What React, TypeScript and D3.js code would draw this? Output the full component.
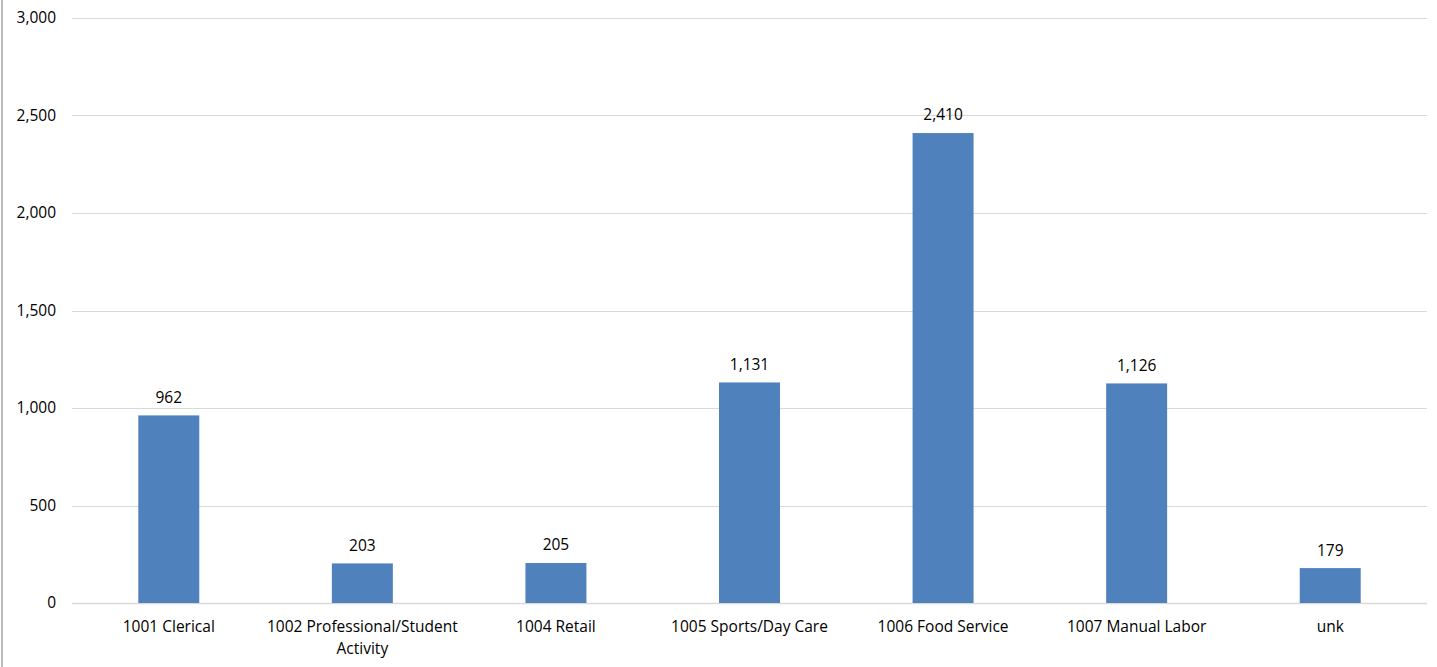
import React from "react";
import * as d3 from "d3";

const categories: string[][] = [
  ["1001 Clerical"],
  ["1002 Professional/Student", "Activity"],
  ["1004 Retail"],
  ["1005 Sports/Day Care"],
  ["1006 Food Service"],
  ["1007 Manual Labor"],
  ["unk"],
];
const values: number[] = [962, 203, 205, 1131, 2410, 1126, 179];
const yTicks: number[] = [0, 500, 1000, 1500, 2000, 2500, 3000];

const W = 1437;
const H = 667;
const margin = { left: 72, right: 10, top: 18, bottom: 64 };
const FONT = "'Open Sans', 'Liberation Sans', sans-serif";
const FS = 15.5;
const fmt = d3.format(",");

export default function App() {
  const x = d3
    .scaleBand<number>()
    .domain(values.map((_, i) => i))
    .range([margin.left, W - margin.right])
    .paddingInner(0.685)
    .paddingOuter(0.3425);
  const y = d3.scaleLinear().domain([0, 3000]).range([H - margin.bottom, margin.top]);

  return (
    <svg
      width={W}
      height={H}
      style={{ position: "absolute", left: 0, top: 0, background: "#fff" }}
      fontFamily={FONT}
    >
      <line x1={2} x2={2} y1={0} y2={H} stroke="#a6a6a6" strokeWidth={1.5} />
      {yTicks.map((t) => (
        <g key={t}>
          <line
            x1={margin.left}
            x2={W - margin.right}
            y1={Math.round(y(t)) + 0.5}
            y2={Math.round(y(t)) + 0.5}
            stroke="#d9d9d9"
            strokeWidth={t === 0 ? 1.5 : 1}
          />
          <text x={56} y={y(t)} dy="0.35em" textAnchor="end" fontSize={FS} fill="#000">
            {fmt(t)}
          </text>
        </g>
      ))}
      {values.map((v, i) => {
        const cx = (x(i) as number) + x.bandwidth() / 2;
        return (
          <g key={i}>
            <rect x={x(i)} y={y(v)} width={x.bandwidth()} height={y(0) - y(v)} fill="#4f81bd" />
            <text x={cx} y={y(v) - 18} dy="0.35em" textAnchor="middle" fontSize={FS} fill="#000">
              {fmt(v)}
            </text>
            {categories[i].map((line, j) => (
              <text
                key={j}
                x={cx}
                y={627 + j * 22}
                dy="0.35em"
                textAnchor="middle"
                fontSize={FS}
                fill="#000"
              >
                {line}
              </text>
            ))}
          </g>
        );
      })}
    </svg>
  );
}
